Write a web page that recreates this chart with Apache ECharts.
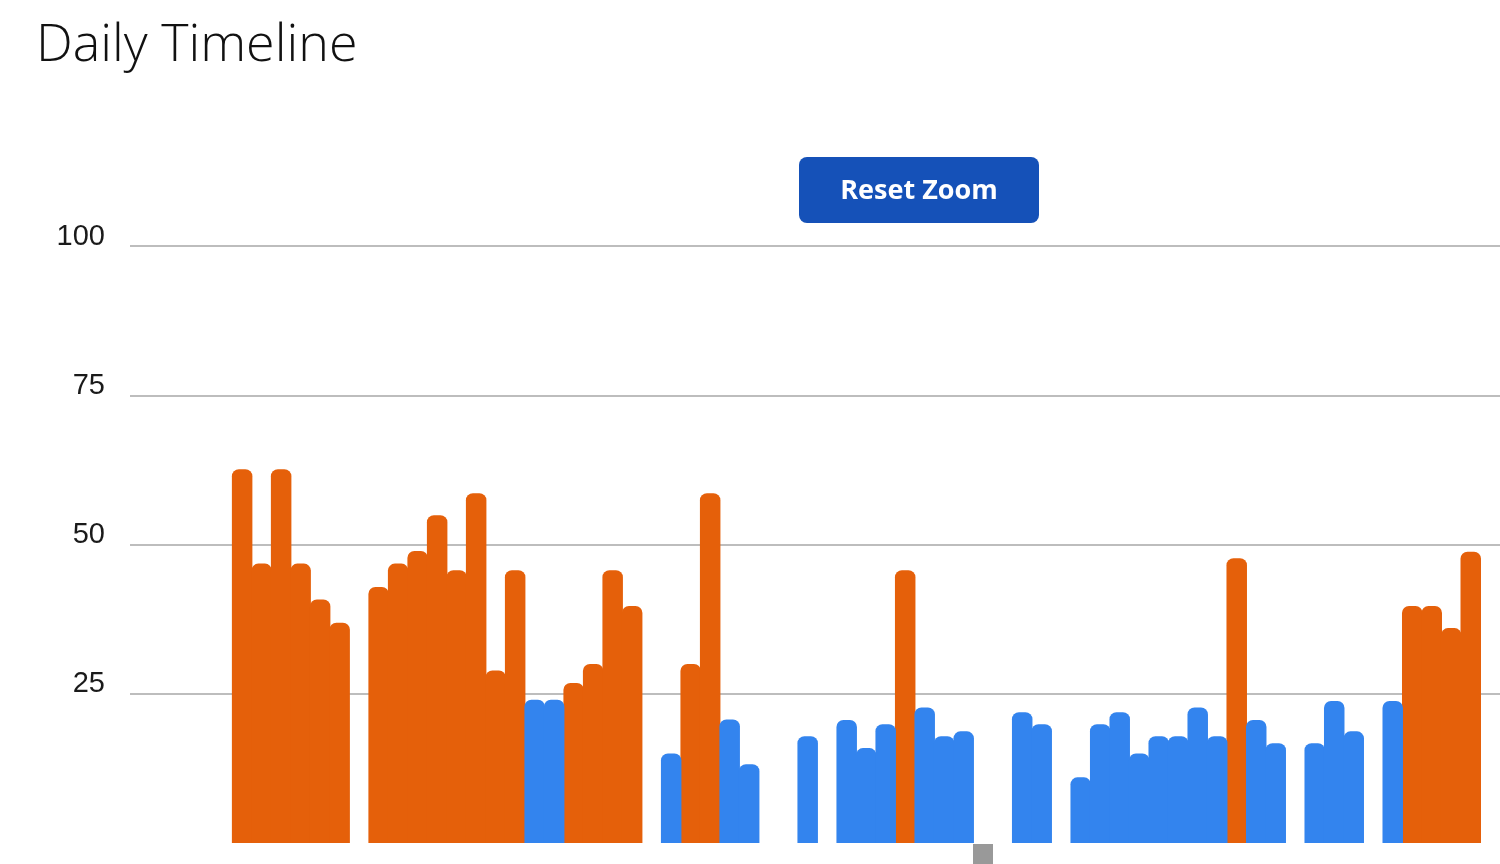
<!DOCTYPE html>
<html>
<head>
<meta charset="utf-8">
<script src="https://cdn.jsdelivr.net/npm/echarts@6/dist/echarts.min.js"></script>
<style>
html,body{margin:0;padding:0;background:#fff;}
#chart{width:1500px;height:864px;}
</style>
</head>
<body>
<div id="chart"></div>
<script>
// Day slots (index along the zoomed timeline)
const days = Array.from({length: 64}, (_, i) => i);
// Daily values (null = no record that day)
const values = [
  62.6, 46.8, 62.6, 46.8, 40.8, 36.9, null,
  42.9, 46.8, 48.9, 54.9, 45.7, 58.6, 28.9, 45.7,
  24.0, 24.0, 26.8, 30.0, 45.7, 39.7, null,
  15.0, 30.0, 58.6, 20.7, 13.2, null, null,
  17.9, null,
  20.6, 15.9, 19.9, 45.7, 22.7, 17.9, 18.7, null, null,
  21.9, 19.9, null,
  11.0, 19.9, 21.9, 15.0, 17.9, 17.9, 22.7, 17.9, 47.7, 20.6, 16.7, null,
  16.7, 23.8, 18.7, null,
  23.8, 39.7, 39.7, 36.0, 48.8
];
// Category of each day: 'o' = high (orange), 'b' = normal (blue)
const kinds = [
  'o','o','o','o','o','o','-',
  'o','o','o','o','o','o','o','o',
  'b','b','o','o','o','o','-',
  'b','o','o','b','b','-','-',
  'b','-',
  'b','b','b','o','b','b','b','-','-',
  'b','b','-',
  'b','b','b','b','b','b','b','b','o','b','b','-',
  'b','b','b','-',
  'b','o','o','o','o'
];
const yTicks = [0, 25, 50, 75, 100];
const titleText = 'Daily Timeline';
const buttonText = 'Reset Zoom';

const orangeData = days.map(d => kinds[d] === 'o' ? [d, values[d]] : null).filter(Boolean);
const blueData = days.map(d => kinds[d] === 'b' ? [d, values[d]] : null).filter(Boolean);

const chart = echarts.init(document.getElementById('chart'), null, {renderer: 'canvas'});
const radius = [7, 7, 0, 0];
const orange = '#E5600A';
const blue = '#3384EE';
chart.setOption({
  animation: false,
  title: {
    text: titleText,
    left: 31,
    top: 15,
    textStyle: {fontFamily: 'Open Sans', fontWeight: 300, fontSize: 52, color: '#111'}
  },
  grid: {left: 130, right: 0, top: 246, bottom: 21},
  xAxis: {
    type: 'value',
    min: -5.75,
    max: 64.5,
    show: false
  },
  yAxis: {
    type: 'value',
    min: yTicks[0],
    max: yTicks[yTicks.length - 1],
    interval: 25,
    axisLine: {show: false},
    axisTick: {show: false},
    axisLabel: {
      showMinLabel: false,
      margin: 25,
      fontFamily: 'Liberation Sans',
      fontSize: 29,
      color: '#1a1a1a',
      verticalAlign: 'bottom',
      lineHeight: 19
    },
    splitLine: {show: true, showMinLine: false, lineStyle: {color: '#bdbdbd', width: 2}}
  },
  series: [
    {
      type: 'bar',
      name: 'High',
      data: orangeData,
      barWidth: 20.5,
      barGap: '-100%',
      itemStyle: {color: orange, borderRadius: radius}
    },
    {
      type: 'bar',
      name: 'Normal',
      data: blueData,
      barWidth: 20.5,
      barGap: '-100%',
      itemStyle: {color: blue, borderRadius: radius}
    }
  ],
  graphic: [
    {
      type: 'group',
      left: 799,
      top: 157,
      children: [
        {type: 'rect', shape: {x: 0, y: 0, width: 240, height: 66, r: 8}, style: {fill: '#1551B8'}},
        {type: 'text', x: 120, y: 34, style: {text: buttonText, fill: '#fff', font: '700 27px "Open Sans"', textAlign: 'center', textVerticalAlign: 'middle'}}
      ]
    },
    {
      type: 'rect',
      left: 973,
      top: 844,
      shape: {width: 20, height: 20},
      style: {fill: '#999999'}
    }
  ]
});
</script>
</body>
</html>
